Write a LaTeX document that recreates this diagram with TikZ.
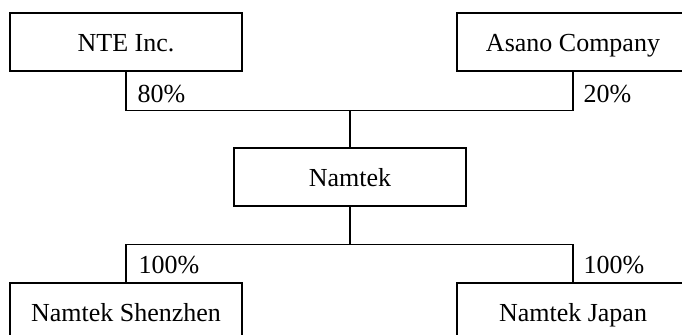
\documentclass[tikz,border=0pt]{standalone}
\usepackage{fontspec}
\setmainfont{Liberation Serif}
\usepackage{tikz}

\tikzset{
  company/.style={draw, line width=0.6pt, minimum width=116pt, minimum height=29pt, inner sep=0pt,
    text height=11pt, text depth=1.3pt},
  share/.style={anchor=base west, inner sep=0pt}
}

\begin{document}
\begin{tikzpicture}[x=0.5pt,y=-0.5pt,line width=0.6pt]\fontsize{13}{15}\selectfont
\useasboundingbox (0,0) rectangle (682,335);
% owners
  \node[company] (nte) at (126,42) {NTE Inc.};
  \node[company] (asano) at (573,42) {Asano Company};
% joint venture
  \node[company] (namtek) at (350,177) {Namtek};
% subsidiaries
  \node[company] (shenzhen) at (126,312) {Namtek Shenzhen};
  \node[company] (japan) at (573,312) {Namtek Japan};
\coordinate (topbar) at (350,110.5);
\coordinate (botbar) at (350,244.5);
  \draw (nte.south) |- (topbar) -| (asano.south);
  \draw (topbar) -- (namtek.north);
  \draw (namtek.south) -- (botbar);
  \draw (shenzhen.north) |- (botbar) -| (japan.north);
% percentages
  \node[share] (p80) at (137,103) {80\%};
  \node[share] (p20) at (583,103) {20\%};
  \node[share] (p100a) at (138,274) {100\%};
  \node[share] (p100b) at (583,274) {100\%};
\end{tikzpicture}
\end{document}
